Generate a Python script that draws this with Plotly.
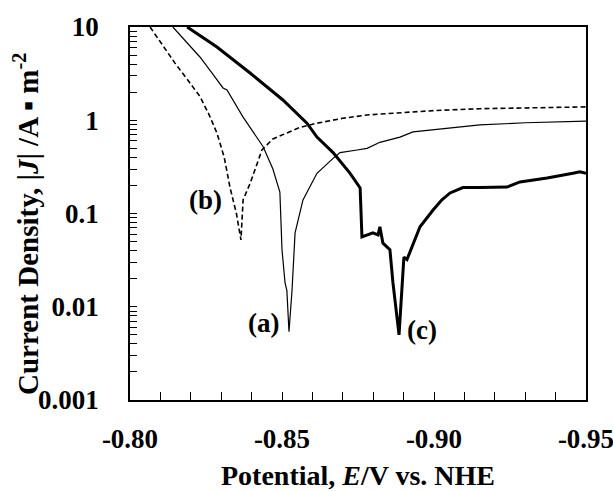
import math
import plotly.graph_objects as go

# Curve (b) dashed
E_b = [-0.8066, -0.8110, -0.8148, -0.8190, -0.8230, -0.8260, -0.8286, -0.8310, -0.8329, -0.8350, -0.8365,
       -0.8372, -0.8395, -0.8434, -0.8470, -0.8516, -0.8560, -0.8615, -0.8700, -0.8780, -0.8888, -0.9000,
       -0.9151, -0.9300, -0.9500]
J_b = [10.0, 6.2, 4.1, 2.7, 1.8, 1.15, 0.73, 0.40, 0.19, 0.10, 0.052,
       0.14, 0.21, 0.48, 0.63, 0.73, 0.84, 0.93, 1.05, 1.14, 1.21, 1.27,
       1.33, 1.36, 1.39]

# Curve (a) thin solid
E_a = [-0.8141, -0.8185, -0.8230, -0.8270, -0.8306, -0.8319, -0.8340, -0.8372, -0.8405, -0.8438, -0.8470,
       -0.8493, -0.8500, -0.8510, -0.8516, -0.8523, -0.8533, -0.8543, -0.8569, -0.8615, -0.8668,
       -0.8691, -0.8747, -0.8780, -0.8822, -0.8888, -0.8931, -0.9050, -0.9151, -0.9300, -0.9500]
J_a = [10.0, 7.0, 4.77, 3.2, 2.22, 2.11, 1.6, 1.08, 0.75, 0.52, 0.30,
       0.17, 0.041, 0.018, 0.015, 0.0054, 0.015, 0.062, 0.14, 0.27, 0.39,
       0.45, 0.48, 0.50, 0.58, 0.66, 0.75, 0.83, 0.89, 0.94, 0.98]

# Curve (c) thick solid
E_c = [-0.8188, -0.8286, -0.8395, -0.8503, -0.8582, -0.8602, -0.8615, -0.8668, -0.8724, -0.8757,
       -0.8763, -0.8799, -0.8816, -0.8822, -0.8832, -0.8855, -0.8865, -0.8885, -0.8895, -0.8901,
       -0.8911, -0.8924, -0.8954, -0.8997, -0.9026, -0.9053, -0.9095, -0.9151, -0.9240, -0.9283,
       -0.9372, -0.9457, -0.9480, -0.9500]
J_c = [10.0, 6.1, 3.21, 1.65, 0.93, 0.75, 0.66, 0.45, 0.27, 0.188,
       0.056, 0.062, 0.059, 0.072, 0.048, 0.041, 0.018, 0.0050, 0.018, 0.034,
       0.032, 0.041, 0.072, 0.109, 0.14, 0.166, 0.190, 0.190, 0.192, 0.218,
       0.24, 0.27, 0.28, 0.27]

x_major = [-0.80, -0.85, -0.90, -0.95]
x_major_text = ["-0.80", "-0.85", "-0.90", "-0.95"]
x_minor_step = 0.01
y_major = [10, 1, 0.1, 0.01, 0.001]
y_major_text = ["10", "1", "0.1", "0.01", "0.001"]

labels = [("(b)", -0.8247, 0.14), ("(a)", -0.8438, 0.0067), ("(c)", -0.8961, 0.0056)]

FONT = "Liberation Serif"
FS = 27

# build tick lists (majors labelled, minors blank)
x_ticks, x_text = [], []
n = int(round((x_major[0] - x_major[-1]) / x_minor_step))
for i in range(n + 1):
    v = round(x_major[0] - i * x_minor_step, 4)
    x_ticks.append(v)
    lab = ""
    for mv, mt in zip(x_major, x_major_text):
        if abs(mv - v) < 1e-9:
            lab = "<b>%s</b>" % mt
    x_text.append(lab)

y_ticks, y_text = [], []
for mv, mt in zip(y_major, y_major_text):
    y_ticks.append(mv)
    y_text.append("<b>%s</b>" % mt)
    if mv < 10:
        for k in range(2, 10):
            y_ticks.append(mv * k)
            y_text.append("")

fig = go.Figure()
fig.add_trace(go.Scatter(x=E_b, y=J_b, mode="lines",
                         line=dict(color="black", width=1.6, dash="5px,3px")))
fig.add_trace(go.Scatter(x=E_a, y=J_a, mode="lines",
                         line=dict(color="black", width=1.2)))
fig.add_trace(go.Scatter(x=E_c, y=J_c, mode="lines",
                         line=dict(color="black", width=3)))

for txt, x, y in labels:
    fig.add_annotation(x=x, y=math.log10(y), yref="y", xref="x", text="<b>%s</b>" % txt, showarrow=False,
                       font=dict(family=FONT, size=FS, color="black"))

# y-axis title as rotated annotation (placed slightly below plot centre, as in the reference)
fig.add_annotation(xref="paper", yref="paper", x=-0.228, y=0.472, xanchor="center", yanchor="middle",
                   textangle=-90, showarrow=False,
                   text="<b>Current Density, |<i>J</i>| /A ▪ m<sup>-2</sup></b>",
                   font=dict(family=FONT, size=29, color="black"))

fig.update_layout(
    width=613, height=491,
    margin=dict(l=130, r=27, t=27, b=91),
    plot_bgcolor="white", paper_bgcolor="white",
    showlegend=False,
    font=dict(family=FONT, color="black"),
)
fig.update_xaxes(
    range=[-0.80, -0.95], tickmode="array", tickvals=x_ticks, ticktext=x_text,
    ticks="inside", ticklen=8, tickwidth=1, tickcolor="black",
    ticklabelstandoff=14, ticklabeloverflow="allow", automargin=False,
    showline=True, linecolor="black", linewidth=1.5, mirror=True,
    showgrid=False, zeroline=False,
    tickfont=dict(family=FONT, size=FS, color="black"),
    title=dict(text="<b>Potential, <i>E</i>/V vs. NHE</b>", font=dict(family=FONT, size=28, color="black"), standoff=20),
)
fig.update_yaxes(
    type="log", range=[-3, 1], tickmode="array", tickvals=y_ticks, ticktext=y_text,
    ticks="inside", ticklen=7, tickwidth=1, tickcolor="black",
    ticklabelstandoff=24, ticklabeloverflow="allow", automargin=False,
    showline=True, linecolor="black", linewidth=1.5, mirror=True,
    showgrid=False, zeroline=False,
    tickfont=dict(family=FONT, size=FS, color="black"),
)

fig.write_html("out.html")
